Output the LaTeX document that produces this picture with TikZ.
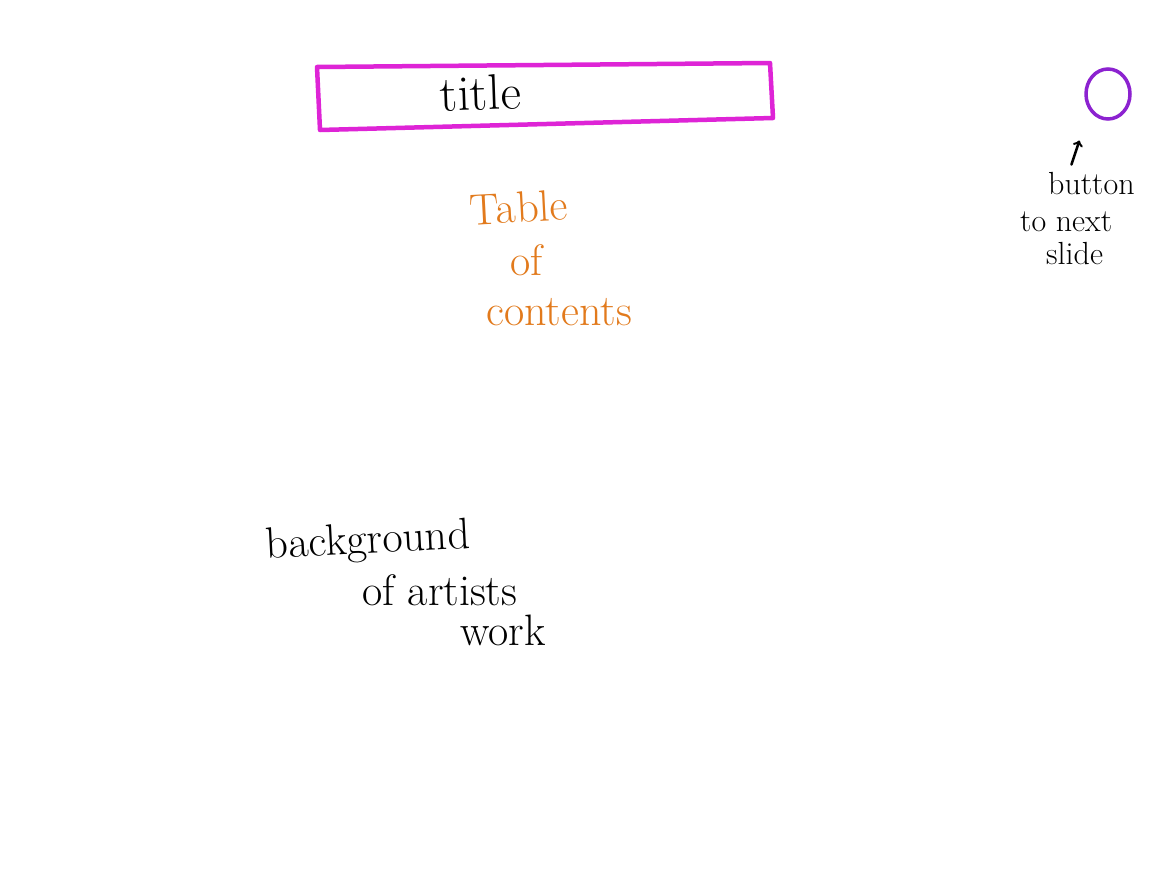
\documentclass[tikz,border=0pt]{standalone}
\usepackage{fontspec}
\usetikzlibrary{positioning,shapes.geometric}
\definecolor{titlepink}{RGB}{222,36,214}
\definecolor{tocorange}{RGB}{226,122,28}
\definecolor{btnpurple}{RGB}{140,34,208}
\tikzset{
  hand/.style={font=\fontsize{44}{48}\selectfont, inner sep=0pt, anchor=west},
  handsmall/.style={font=\fontsize{32}{34}\selectfont, inner sep=0pt, anchor=west},
}
\begin{document}
\begin{tikzpicture}[x=1pt,y=-1pt]
\fill[white] (0,0) rectangle (1170,878);
\useasboundingbox (0,0) rectangle (1170,878);

% title bar
\coordinate (t1) at (317,67);
\coordinate (t2) at (770,63);
\coordinate (t3) at (773,118);
\coordinate (t4) at (320,130);
\draw[titlepink, line width=4.5pt, line join=round] (t1) -- (t2) -- (t3) -- (t4) -- cycle;
\node[hand, font=\fontsize{50}{54}\selectfont, rotate=2] (title) at (440,94) {title};

% table of contents
\node[hand, tocorange, rotate=3] (toc1) at (470,210) {Table};
\node[hand, tocorange] (toc2) at (510,260) {of};
\node[hand, tocorange] (toc3) at (486,312) {contents};

% next-slide button
\node[draw=btnpurple, line width=3.5pt, ellipse, minimum width=44pt, minimum height=50pt, inner sep=0pt] (btn) at (1108,94) {};
\node[handsmall] (lab1) at (1048,184) {button};
\node[handsmall] (lab2) at (1020,222) {to next};
\node[handsmall] (lab3) at (1046,254) {slide};
\draw[->, line width=2.5pt, line cap=round] (lab1.north) ++(-20,-8) coordinate (p1) -- ++(8,-24) coordinate (p2);

% artist background
\node[hand, rotate=3] (bg1) at (266,548) {background};
\node[hand] (bg2) at (362,590) {of artists};
\node[hand] (bg3) at (460,630) {work};

\end{tikzpicture}
\end{document}
